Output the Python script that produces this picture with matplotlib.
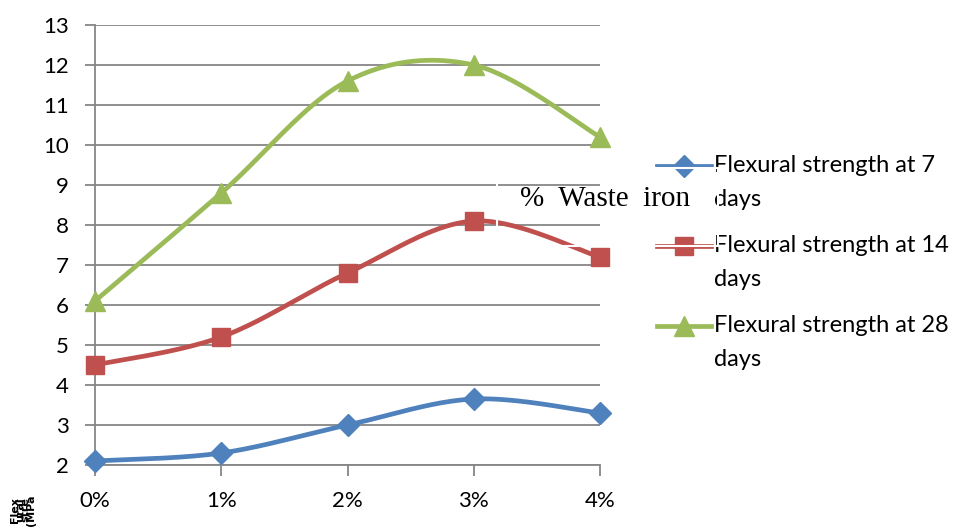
import numpy as np
import matplotlib
matplotlib.use('Agg')
import matplotlib.pyplot as plt
from matplotlib.lines import Line2D
from matplotlib.patches import Rectangle

# data
x_labels = ['0%', '1%', '2%', '3%', '4%']
days_7 = [2.1, 2.3, 3.0, 3.65, 3.3]
days_14 = [4.5, 5.2, 6.8, 8.1, 7.2]
days_28 = [6.1, 8.8, 11.6, 12.0, 10.2]
series_names = ['Flexural strength at 7\ndays',
                'Flexural strength at 14\ndays',
                'Flexural strength at 28\ndays']
colors = ['#4F81BD', '#C0504D', '#9BBB59']
markers = ['D', 's', '^']
msizes = [11, 13, 14]

W, H = 961, 532


def smooth(xs, ys, n=40):
    # excel style smoothed line (catmull-rom bezier)
    p = np.column_stack([xs, ys]).astype(float)
    out = []
    for i in range(len(p) - 1):
        p0 = p[i - 1] if i > 0 else p[i]
        p1, p2 = p[i], p[i + 1]
        p3 = p[i + 2] if i + 2 < len(p) else p[i + 1]
        c1 = p1 + (p2 - p0) / 6
        c2 = p2 - (p3 - p1) / 6
        t = np.linspace(0, 1, n)[:, None]
        seg = ((1 - t) ** 3) * p1 + 3 * ((1 - t) ** 2) * t * c1 + 3 * (1 - t) * t ** 2 * c2 + t ** 3 * p2
        out.append(seg if i == 0 else seg[1:])
    s = np.vstack(out)
    return s[:, 0], s[:, 1]


plt.rcParams['font.family'] = ['Lato', 'DejaVu Sans']

fig = plt.figure(figsize=(W / 100, H / 100), dpi=100)
ax = fig.add_axes([95 / W, 1 - 465 / H, (600 - 95) / W, (465 - 25) / H])

xs = np.arange(len(x_labels))
for ys, c, m, ms in zip([days_7, days_14, days_28], colors, markers, msizes):
    sx, sy = smooth(xs, ys)
    ax.plot(sx, sy, color=c, lw=3.4, clip_on=False, zorder=3, solid_capstyle='round')
    ax.plot(xs, ys, ls='none', marker=m, ms=ms, color=c, clip_on=False, zorder=4)

ax.set_xlim(0, 4)
ax.set_ylim(2, 13)
ax.set_yticks(range(2, 14))
ax.set_xticks(xs)
ax.set_xticklabels(x_labels)
ax.grid(axis='y', color='#868686', lw=1.3)
ax.set_axisbelow(True)
for s in ['top', 'right']:
    ax.spines[s].set_visible(False)
for s in ['left', 'bottom']:
    ax.spines[s].set_color('#868686')
    ax.spines[s].set_linewidth(1.3)
ax.tick_params(axis='y', length=7, width=1.3, color='#868686', pad=12, labelsize=16)
ax.tick_params(axis='x', length=8, width=1.3, color='#868686', pad=11, labelsize=16)

# legend drawn by hand so the key sits on the first text line
leg_y = [166, 246, 326]
for name, c, m, ms, y in zip(series_names, colors, markers, msizes, leg_y):
    fy = 1 - y / H
    fig.add_artist(Line2D([657 / W, 711 / W], [fy, fy], color=c, lw=3.4))
    fig.add_artist(Line2D([684 / W], [fy], ls='none', marker=m, ms=ms, color=c))
    first, second = name.split('\n')
    fig.text(714 / W, fy, first, fontsize=17, va='center', ha='left')
    fig.text(714 / W, 1 - (y + 33) / H, second, fontsize=17, va='center', ha='left')

# axis title text box left floating in the chart
fig.text(520 / W, 1 - 199 / H, '%  Waste  iron', fontsize=21, va='center', ha='left',
         family='Liberation Serif')
fig.add_artist(Rectangle((497 / W, 1 - 246 / H), (718 - 497) / W, (246 - 168) / H,
                         fill=False, edgecolor='white', lw=1.5, zorder=10))

# garbled rotated label bottom-left
fig.text(23 / W, 1 - 494 / H, 'Flex\nural\nstre\n(MPa', rotation=90, fontsize=8,
         fontweight='bold', va='top', ha='center', linespacing=0.45,
         family='DejaVu Sans')

fig.savefig('out.png', dpi=100)
